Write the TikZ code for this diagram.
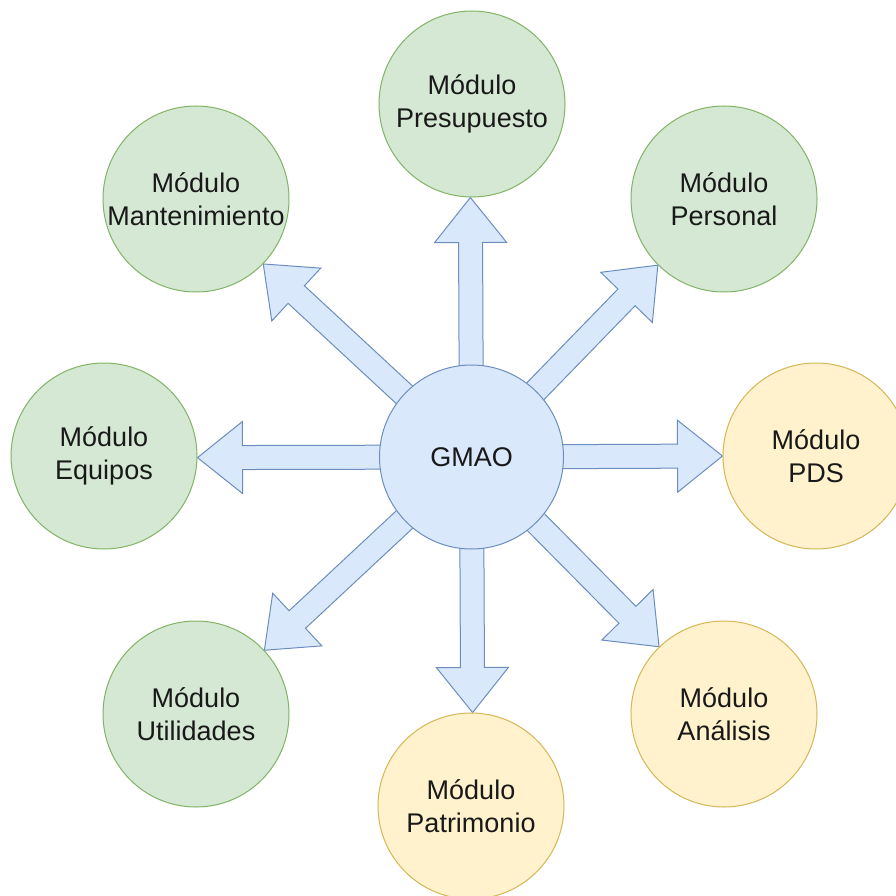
\documentclass[tikz,border=0pt]{standalone}
\usepackage{fontspec}
\setmainfont{Liberation Sans}
\usetikzlibrary{calc,backgrounds}
\definecolor{gfill}{HTML}{D5E8D4}\definecolor{gdraw}{HTML}{82B366}
\definecolor{yfill}{HTML}{FFF2CC}\definecolor{ydraw}{HTML}{D6B656}
\definecolor{bfill}{HTML}{DAE8FC}\definecolor{bdraw}{HTML}{6C8EBF}
\newcommand\flexarrow[2]{%
  \path let \p1=(#1.center), \p2=(#2.center), \n1={atan2(\y2-\y1,\x2-\x1)}, \n2={\n1+180} in
    (#1.center) coordinate (s) (#2.\n2) coordinate (e);
  \coordinate (h) at ($(e)!45pt!(s)$);
  \begin{scope}[on background layer]
    \draw[flex] ($(s)!12pt!90:(e)$) -- ($(h)!12pt!90:(e)$) -- ($(h)!36pt!90:(e)$) -- (e)
      -- ($(h)!36pt!-90:(e)$) -- ($(h)!12pt!-90:(e)$) -- ($(s)!12pt!-90:(e)$) -- cycle;
  \end{scope}}
\begin{document}
\begin{tikzpicture}[x=1pt,y=-1pt,
  module/.style={circle,minimum size=186pt,inner sep=0pt,align=center,
    font=\fontsize{27}{33}\selectfont,text=black!90,line width=1pt},
  gmod/.style={module,fill=gfill,draw=gdraw},
  ymod/.style={module,fill=yfill,draw=ydraw},
  hub/.style={module,fill=bfill,draw=bdraw,minimum size=184pt},
  flex/.style={fill=bfill,draw=bdraw,line width=1pt,line join=miter}]
\useasboundingbox (0,0) rectangle (896,896);
\clip (0,0) rectangle (896,896);
\begin{scope}[on background layer]
  \fill[white] (0,0) rectangle (896,896);
\end{scope}
\node[hub] (g) at (471.5,457) {GMAO};
\node[gmod] (pre) at (472,104) {Módulo\\Presupuesto};
\node[gmod] (man) at (196,199) {Módulo\\Mantenimiento};
\node[gmod] (per) at (724,199) {Módulo\\Personal};
\node[gmod] (equ) at (104,456) {Módulo\\Equipos};
\node[ymod] (pds) at (816,456) {Módulo\\PDS};
\node[gmod] (uti) at (196,714) {Módulo\\Utilidades};
\node[ymod] (ana) at (724,714) {Módulo\\Análisis};
\node[ymod] (pat) at (471,806) {Módulo\\Patrimonio};
\flexarrow{g}{pre}
\flexarrow{g}{man}
\flexarrow{g}{per}
\flexarrow{g}{equ}
\flexarrow{g}{pds}
\flexarrow{g}{uti}
\flexarrow{g}{ana}
\flexarrow{g}{pat}
\end{tikzpicture}
\end{document}
